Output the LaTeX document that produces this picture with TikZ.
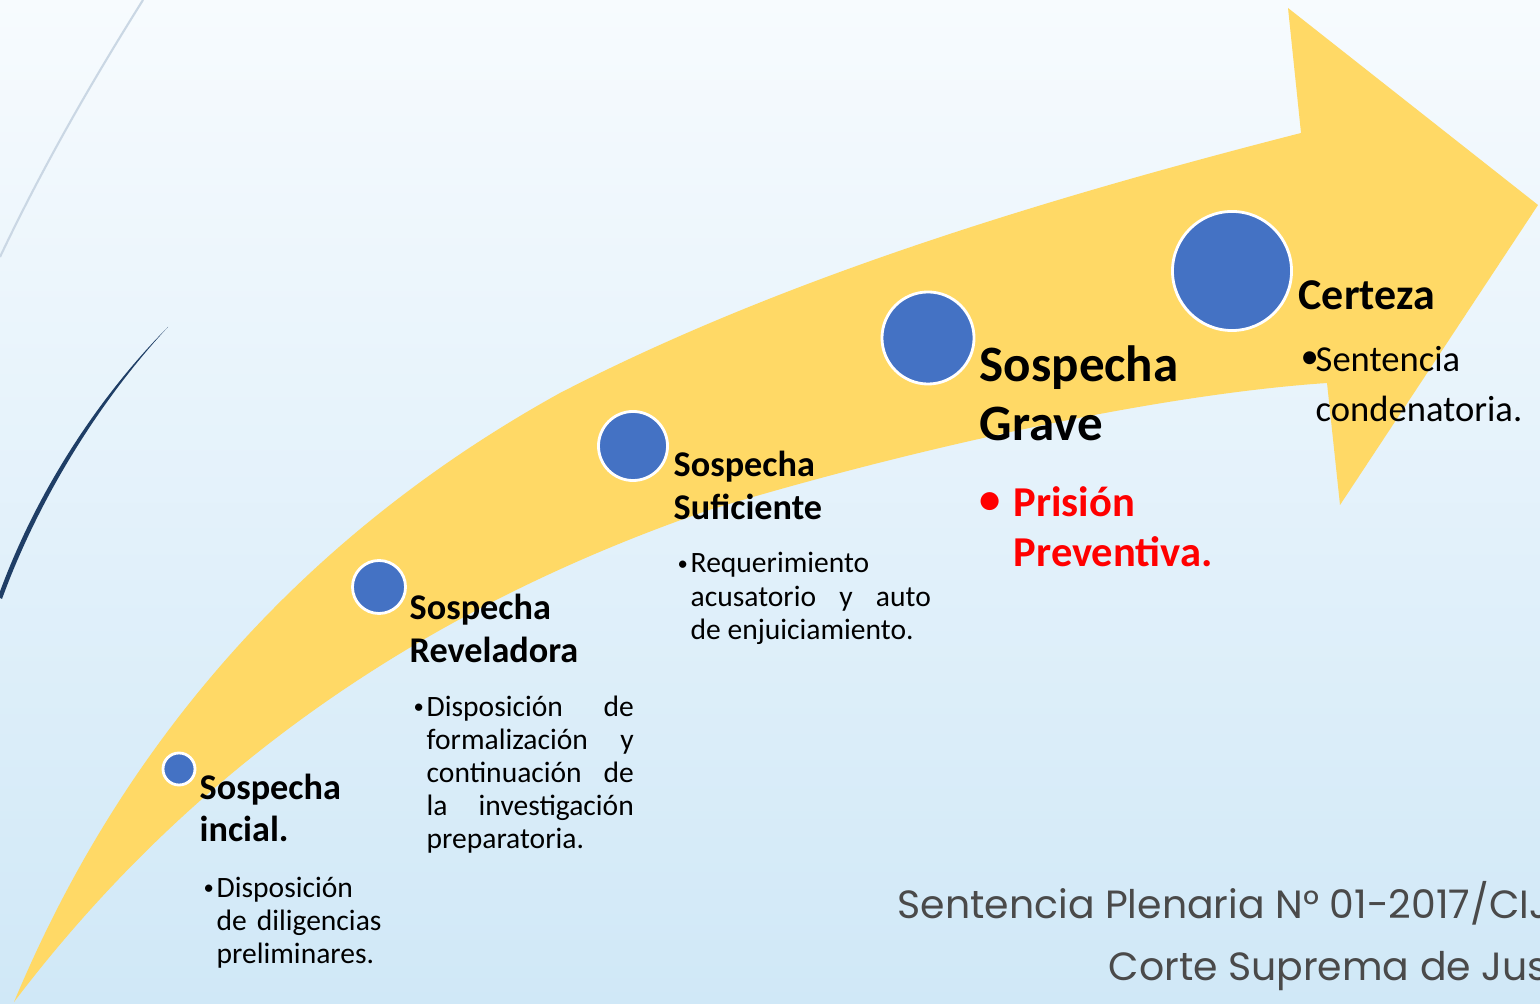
\documentclass[tikz,border=0pt]{standalone}
\usepackage{fontspec}
\usepackage{graphicx}
\setmainfont{Carlito}
\newfontfamily\footfont{Poppins}
\definecolor{bandyellow}{HTML}{FFD966}
\definecolor{stageblue}{HTML}{4472C4}
\definecolor{navyline}{HTML}{1F3E66}
\definecolor{paleline}{HTML}{CAD7E4}
\definecolor{bgtop}{HTML}{F7FBFE}
\definecolor{bgbottom}{HTML}{D0E8F7}
\definecolor{footgray}{HTML}{4A4A4A}
\newcommand{\bulitem}[2][1]{\noindent\hangindent=#2\hangafter=1\makebox[#2][l]{\raisebox{0.09em}{\scalebox{#1}{\textbullet}}}}
\begin{document}
\begin{tikzpicture}[x=0.01cm,y=-0.01cm,
  stage/.style={circle,fill=stageblue,draw=white,line width=0.8pt,inner sep=0pt},
  title/.style={anchor=base west,inner sep=0pt,align=left,text width=3cm},
  note/.style={anchor=base west,inner sep=0pt,align=justify,font=\fontsize{8.4}{9.4}\selectfont}]
\path[use as bounding box] (0,0) rectangle (1540,1004);
\shade[top color=bgtop,bottom color=bgbottom] (0,0) rectangle (1540,1004);
% thin lines at the left edge
\draw[paleline,line width=0.6pt] (143,0) .. controls (96,75) and (46,160) .. (0,257);
\fill[navyline] (168,327) .. controls (110,385) and (40,480) .. (-2,597) -- (2,599) .. controls (44,484) and (112,387) .. (168,327) -- cycle;
% the curved arrow
\fill[bandyellow] (14,1002) .. controls (90,820) and (240,570) .. (560,393) .. controls (760,290) and (1000,210) .. (1301,133) -- (1288,8) -- (1538,205) -- (1340,505) -- (1327,383) .. controls (1150,395) and (900,452) .. (709,510) .. controls (420,610) and (190,770) .. (14,1002) -- cycle;
% stages
\node[stage,minimum size=0.32cm] (s1) at (179,769) {};
\node[stage,minimum size=0.53cm] (s2) at (379,587) {};
\node[stage,minimum size=0.69cm] (s3) at (633,446) {};
\node[stage,minimum size=0.92cm] (s4) at (928,338) {};
\node[stage,minimum size=1.19cm] (s5) at (1232,271) {};
\node[title,font=\bfseries\fontsize{10.3}{12}\selectfont] (t1) at (199,799) {Sospecha\\incial.};
\node[note,text width=1.9cm,align=left] (n1) at (203,897) {\bulitem[0.7]{0.13cm}Disposición\newline de diligencias\newline preliminares.\par};
\node[title,font=\bfseries\fontsize{10.3}{12}\selectfont] (t2) at (409,620) {Sospecha\\Reveladora};
\node[note,text width=2.2cm] (n2) at (413,716) {\bulitem[0.7]{0.13cm}Disposición de\linebreak formalización y\linebreak continuación de\linebreak la investigación\linebreak preparatoria.\par};
\node[title,font=\bfseries\fontsize{10.3}{12}\selectfont] (t3) at (673,477) {Sospecha\\Suficiente};
\node[note,text width=2.53cm] (n3) at (677,573) {\bulitem[0.7]{0.13cm}Requerimiento\newline acusatorio y auto\linebreak de enjuiciamiento.\par};
\node[title,font=\bfseries\fontsize{14.5}{16.5}\selectfont] (t4) at (979,382) {Sospecha\\Grave};
\node[note,text width=3cm,align=left,text=red,font=\bfseries\fontsize{12.1}{14.2}\selectfont] (n4) at (979,517) {\bulitem{0.34cm}Prisión\newline Preventiva.\par};
\node[title,font=\bfseries\fontsize{12.5}{14}\selectfont] (t5) at (1298,310) {Certeza};
\node[note,text width=2.4cm,align=left,font=\fontsize{10.4}{14.2}\selectfont] (n5) at (1300,372) {\bulitem{0.15cm}Sentencia\newline condenatoria.\par};
% source
\begin{scope}
\clip (0,0) rectangle (1540,1004);
\node[anchor=base west,inner sep=0pt,text=footgray,font=\footfont\fontsize{11.2}{14}\selectfont] (f1) at (897,918) {Sentencia Plenaria N° 01-2017/CIJ};
\node[anchor=base west,inner sep=0pt,text=footgray,font=\footfont\fontsize{11.2}{14}\selectfont] (f2) at (1108,980) {Corte Suprema de Justicia};
\end{scope}
\end{tikzpicture}
\end{document}
